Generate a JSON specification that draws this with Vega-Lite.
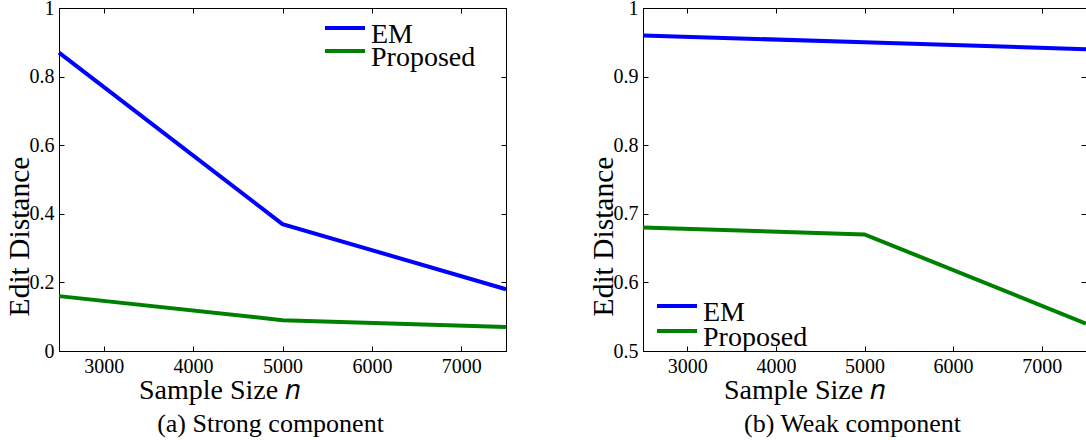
{
  "$schema": "https://vega.github.io/schema/vega-lite/v6.json",
  "padding": {"left": 3, "top": -3, "right": 0, "bottom": 0},
  "background": "white",
  "bounds": "flush",
  "spacing": 137,
  "config": {
    "font": "serif",
    "view": {"stroke": "black", "strokeWidth": 1},
    "style": {"guide-label": {"font": "serif"}, "guide-title": {"font": "serif"}},
    "axis": {
      "grid": false,
      "domainColor": "black",
      "tickColor": "black",
      "labelColor": "black",
      "titleColor": "black",
      "labelFont": "serif",
      "titleFont": "serif",
      "labelFontSize": 20,
      "titleFontSize": 28,
      "titleFontWeight": "normal",
      "tickSize": -5,
      "labelPadding": 10
    },
    "legend": {
      "labelFont": "serif",
      "labelFontSize": 28,
      "labelColor": "black",
      "symbolType": "stroke",
      "symbolSize": 1600,
      "symbolStrokeWidth": 4,
      "labelOffset": 4,
      "rowPadding": 0,
      "clipHeight": 16,
      "padding": 0,
      "title": null
    },
    "title": {"font": "serif", "fontSize": 26, "fontWeight": "normal", "color": "black"}
  },
  "datasets": {
    "strong": [
      {"n": 2500, "d": 0.87, "method": "EM"},
      {"n": 5000, "d": 0.37, "method": "EM"},
      {"n": 7500, "d": 0.18, "method": "EM"},
      {"n": 2500, "d": 0.16, "method": "Proposed"},
      {"n": 5000, "d": 0.09, "method": "Proposed"},
      {"n": 7500, "d": 0.07, "method": "Proposed"}
    ],
    "weak": [
      {"n": 2500, "d": 0.96, "method": "EM"},
      {"n": 5000, "d": 0.95, "method": "EM"},
      {"n": 7500, "d": 0.94, "method": "EM"},
      {"n": 2500, "d": 0.68, "method": "Proposed"},
      {"n": 5000, "d": 0.67, "method": "Proposed"},
      {"n": 7500, "d": 0.54, "method": "Proposed"}
    ]
  },
  "resolve": {"scale": {"x": "independent", "y": "independent"}, "legend": {"color": "independent", "stroke": "independent"}},
  "hconcat": [
    {
      "width": 447,
      "height": 343,
      "title": {"text": "(a) Strong component", "orient": "bottom", "dx": -12, "offset": 7},
      "data": {"name": "strong"},
      "layer": [
        {
          "transform": [{"filter": "datum.method === 'EM'"}],
          "mark": {"type": "line", "strokeWidth": 4},
          "encoding": {
            "x": {"field": "n", "type": "quantitative", "scale": {"domain": [2500, 7500], "nice": false, "zero": false},
                  "axis": {"values": [3000, 4000, 5000, 6000, 7000], "format": "d", "title": "Sample Size 𝑛", "titleX": 160, "titlePadding": 0}},
            "y": {"field": "d", "type": "quantitative", "scale": {"domain": [0, 1], "nice": false},
                  "axis": {"values": [0, 0.2, 0.4, 0.6, 0.8, 1], "format": "~g", "title": "Edit Distance", "titleFontSize": 29.5, "titleX": -31, "titleY": 228, "titleBaseline": "alphabetic", "titleAngle": -90}},
            "color": {"field": "method", "type": "nominal", "scale": {"domain": ["EM"], "range": ["#0000ff"]},
                      "legend": {"title": null, "orient": "none", "legendX": 264, "legendY": 12,
                                 "encode": {"labels": {"update": {"dy": {"value": 7}}}}}}
          }
        },
        {
          "transform": [{"filter": "datum.method === 'Proposed'"}],
          "mark": {"type": "line", "strokeWidth": 4},
          "encoding": {
            "x": {"field": "n", "type": "quantitative", "scale": {"domain": [2500, 7500], "nice": false, "zero": false}, "axis": null},
            "y": {"field": "d", "type": "quantitative", "scale": {"domain": [0, 1], "nice": false}, "axis": null},
            "stroke": {"field": "method", "type": "nominal", "scale": {"domain": ["Proposed"], "range": ["#008000"]},
                      "legend": {"title": null, "orient": "none", "legendX": 264, "legendY": 35,
                                 "encode": {"labels": {"update": {"dy": {"value": 7}}}}}}
          }
        },
        {
          "mark": {"type": "line", "opacity": 0},
          "encoding": {
            "x": {"field": "n", "type": "quantitative", "scale": {"domain": [2500, 7500], "nice": false, "zero": false},
                  "axis": {"orient": "top", "values": [3000, 4000, 5000, 6000, 7000], "labels": false, "title": null}},
            "y": {"field": "d", "type": "quantitative", "scale": {"domain": [0, 1], "nice": false},
                  "axis": {"orient": "right", "values": [0, 0.2, 0.4, 0.6, 0.8, 1], "labels": false, "title": null}},
            "detail": {"field": "method"}
          }
        }
      ],
      "resolve": {"axis": {"x": "independent", "y": "independent"}}
    },
    {
      "width": 443,
      "height": 343,
      "title": {"text": "(b) Weak component", "orient": "bottom", "dx": -12, "offset": 7},
      "data": {"name": "weak"},
      "layer": [
        {
          "transform": [{"filter": "datum.method === 'EM'"}],
          "mark": {"type": "line", "strokeWidth": 4},
          "encoding": {
            "x": {"field": "n", "type": "quantitative", "scale": {"domain": [2500, 7500], "nice": false, "zero": false},
                  "axis": {"values": [3000, 4000, 5000, 6000, 7000], "format": "d", "title": "Sample Size 𝑛", "titleX": 161, "titlePadding": 0}},
            "y": {"field": "d", "type": "quantitative", "scale": {"domain": [0.5, 1], "nice": false, "zero": false},
                  "axis": {"values": [0.5, 0.6, 0.7, 0.8, 0.9, 1], "format": "~g", "title": "Edit Distance", "titleFontSize": 29.5, "titleX": -31, "titleY": 228, "titleBaseline": "alphabetic", "titleAngle": -90}},
            "color": {"field": "method", "type": "nominal", "scale": {"domain": ["EM"], "range": ["#0000ff"]},
                      "legend": {"title": null, "orient": "none", "legendX": 12, "legendY": 290,
                                 "encode": {"labels": {"update": {"dy": {"value": 7}}}}}}
          }
        },
        {
          "transform": [{"filter": "datum.method === 'Proposed'"}],
          "mark": {"type": "line", "strokeWidth": 4},
          "encoding": {
            "x": {"field": "n", "type": "quantitative", "scale": {"domain": [2500, 7500], "nice": false, "zero": false}, "axis": null},
            "y": {"field": "d", "type": "quantitative", "scale": {"domain": [0.5, 1], "nice": false, "zero": false}, "axis": null},
            "stroke": {"field": "method", "type": "nominal", "scale": {"domain": ["Proposed"], "range": ["#008000"]},
                      "legend": {"title": null, "orient": "none", "legendX": 12, "legendY": 315,
                                 "encode": {"labels": {"update": {"dy": {"value": 7}}}}}}
          }
        },
        {
          "mark": {"type": "line", "opacity": 0},
          "encoding": {
            "x": {"field": "n", "type": "quantitative", "scale": {"domain": [2500, 7500], "nice": false, "zero": false},
                  "axis": {"orient": "top", "values": [3000, 4000, 5000, 6000, 7000], "labels": false, "title": null}},
            "y": {"field": "d", "type": "quantitative", "scale": {"domain": [0.5, 1], "nice": false, "zero": false},
                  "axis": {"orient": "right", "values": [0.5, 0.6, 0.7, 0.8, 0.9, 1], "labels": false, "title": null}},
            "detail": {"field": "method"}
          }
        }
      ],
      "resolve": {"axis": {"x": "independent", "y": "independent"}}
    }
  ]
}
